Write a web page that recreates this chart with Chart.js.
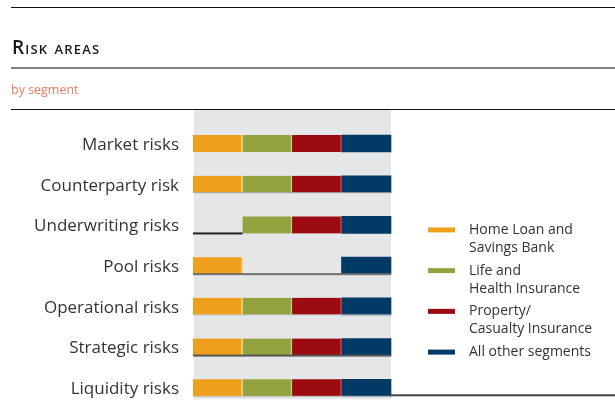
<!DOCTYPE html>
<html>
<head>
<meta charset="utf-8">
<script src="https://cdn.jsdelivr.net/npm/chart.js@4/dist/chart.umd.min.js"></script>
<style>
  html, body { margin: 0; padding: 0; background: #fff; }
  #wrap { position: relative; width: 615px; height: 412px; overflow: hidden; }
  #c { position: absolute; left: 0; top: 0; }
  .rule { position: absolute; left: 11px; right: 0; }
  #title { position: absolute; left: 12px; top: 37px; font-family: "Open Sans", sans-serif; font-size: 19px; font-variant: small-caps; letter-spacing: 1.2px; color: #1a1a1a; font-weight: 600; line-height: 20px; white-space: nowrap; }
  #sub { position: absolute; left: 11px; top: 81px; font-family: "Open Sans", sans-serif; font-size: 13px; color: #EE7B5E; line-height: 16px; transform: scaleX(0.96); transform-origin: left center; white-space: nowrap; }
</style>
</head>
<body>
<div id="wrap">
  <canvas id="c" width="615" height="412"></canvas>
  <div class="rule" style="top:7px;height:1px;background:#111;"></div>
  <div id="title">Risk areas</div>
  <div class="rule" style="top:67px;height:2px;background:#808080;"></div>
  <div id="sub">by segment</div>
  <div class="rule" style="top:109px;height:1px;background:#111;"></div>
</div>
<script>
const categories = ['Market risks', 'Counterparty risk', 'Underwriting risks', 'Pool risks', 'Operational risks', 'Strategic risks', 'Liquidity risks'];
const seriesNames = [['Home Loan and', 'Savings Bank'], ['Life and', 'Health Insurance'], ['Property/', 'Casualty Insurance'], ['All other segments']];
// 1 = segment is exposed to this risk area, 0 = not
const homeLoan = [1, 1, 0, 1, 1, 1, 1];
const lifeHealth = [1, 1, 1, 0, 1, 1, 1];
const propertyCasualty = [1, 1, 1, 0, 1, 1, 1];
const otherSegments = [1, 1, 1, 1, 1, 1, 1];
const xTicks = [0, 1, 2, 3, 4];
// rules printed under some rows: [category index, from value, to value]
const rowRules = [[1, 0, 4], [2, 0, 1], [3, 0, 4], [4, 0, 4], [5, 0, 4], [6, 0, 4]];

const colors = ['#EEA01C', '#93A23E', '#9C0B11', '#003A65'];
const edgeColors = ['#F6CE7E', '#C3CD8A', '#C0474C', '#003A65'];
const ruleStyles = [['#A8A8A8', 1], ['#222222', 2], ['#6E6E6E', 2], ['#BDBDBD', 1], ['#555555', 2], ['#BDBDBD', 1]];

const values = [homeLoan, lifeHealth, propertyCasualty, otherSegments];

const bgPlugin = {
  id: 'bg',
  beforeDatasetsDraw(chart) {
    const { ctx, chartArea, scales } = chart;
    const y = scales.y;
    const top = y.getPixelForValue(0) - 33.5;
    const bottom = y.getPixelForValue(categories.length - 1) + 11.5;
    ctx.save();
    ctx.fillStyle = '#E5E6E8';
    ctx.fillRect(chartArea.left + 1, top, chartArea.right - chartArea.left - 1, bottom - top);
    ctx.restore();
  },
  afterDatasetsDraw(chart) {
    const { ctx, scales } = chart;
    const x = scales.x, y = scales.y;
    ctx.save();
    rowRules.forEach((r, i) => {
      const [col, w] = ruleStyles[i];
      const yy = y.getPixelForValue(r[0]) + 8.5 - w / 2;
      ctx.fillStyle = col;
      const x0 = x.getPixelForValue(r[1]);
      const x1 = x.getPixelForValue(r[2]);
      ctx.fillRect(x0, yy, x1 - x0, w);
    });
    // bottom rule running out to the right edge
    const last = y.getPixelForValue(categories.length - 1) + 8.5 - 2;
    ctx.fillStyle = '#444';
    ctx.fillRect(x.getPixelForValue(4), last, chart.width - x.getPixelForValue(4), 2);
    ctx.restore();
  }
};

const legendPlugin = {
  id: 'sideLegend',
  afterDraw(chart) {
    const { ctx, scales } = chart;
    const y = scales.y;
    ctx.save();
    ctx.font = '14px "Open Sans", sans-serif';
    ctx.textBaseline = 'middle';
    ctx.textAlign = 'left';
    const y0 = y.getPixelForValue(2) + 5;
    const step = (y.getPixelForValue(3) - y.getPixelForValue(2));
    seriesNames.forEach((lines, i) => {
      const cy = y0 + i * step;
      ctx.fillStyle = colors[i];
      ctx.fillRect(428, cy - 2.5, 27, 5);
      ctx.fillStyle = '#333';
      lines.forEach((t, j) => ctx.fillText(t, 469, cy + j * 18));
    });
    ctx.restore();
  }
};

new Chart(document.getElementById('c'), {
  type: 'bar',
  data: {
    labels: categories,
    datasets: values.map((v, i) => ({
      label: seriesNames[i].join(' '),
      // each segment occupies its own fixed slot [i, i+1] along the row
      data: v.map(p => (p ? [i, i + 1] : null)),
      backgroundColor: colors[i],
      borderColor: edgeColors[i],
      borderWidth: { left: 0, top: 0, bottom: 0, right: i < 3 ? 1.5 : 0 },
      borderSkipped: false,
      barThickness: 17,
      grouped: false,
      clip: false
    }))
  },
  options: {
    indexAxis: 'y',
    responsive: false,
    animation: false,
    layout: { padding: { top: 143.5, bottom: 19.5, right: 224, left: 0 } },
    plugins: { legend: { display: false }, tooltip: { enabled: false } },
    scales: {
      x: { min: xTicks[0], max: xTicks[xTicks.length - 1], display: false },
      y: {
        offset: false,
        border: { display: false },
        grid: { display: false, drawTicks: false },
        ticks: { padding: 14, labelOffset: 1.5, color: '#333', font: { family: '"Open Sans", sans-serif', size: 17 } },
        afterFit(s) { s.width = 193; }
      }
    }
  },
  plugins: [bgPlugin, legendPlugin]
});
</script>
</body>
</html>
